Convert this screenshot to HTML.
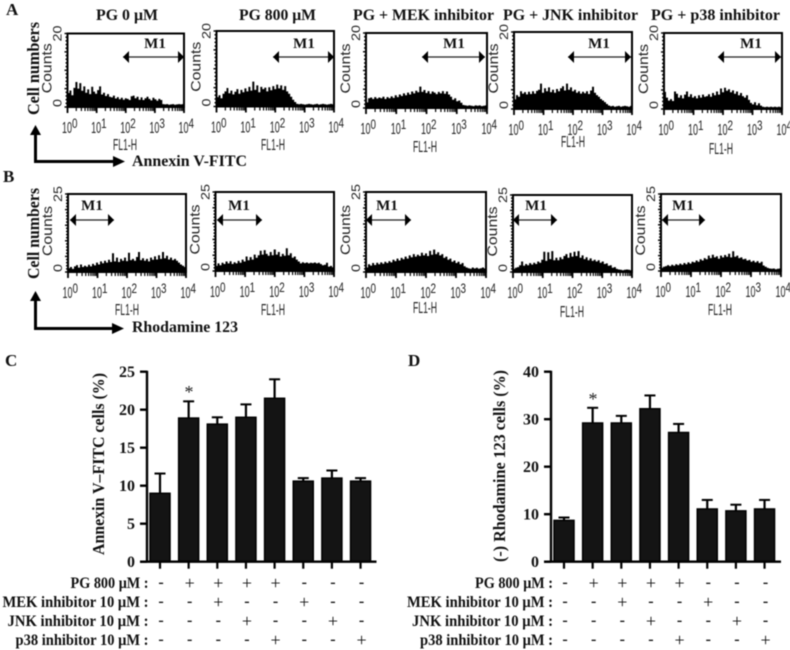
<!DOCTYPE html>
<html lang="en">
<head>
<meta charset="utf-8">
<title>Flow cytometry and bar charts</title>
<style>
html,body{margin:0;padding:0;background:#fff;width:790px;height:650px;overflow:hidden}
svg{display:block;filter:blur(0.4px)}
.serif{font-family:"Liberation Serif",serif;font-weight:bold;fill:#111}
.sans{font-family:"Liberation Sans",sans-serif;fill:#222}
</style>
</head>
<body>
<svg id="figure" width="790" height="650" viewBox="0 0 790 650" xmlns="http://www.w3.org/2000/svg">
<rect width="790" height="650" fill="#fff"/>
<text class="serif" x="6" y="15" font-size="17">A</text>
<text class="serif" x="3" y="182" font-size="17">B</text>
<text class="serif" x="5" y="366" font-size="17">C</text>
<text class="serif" x="408" y="366" font-size="17">D</text>

<text class="serif" x="96" y="20" font-size="16" textLength="62" lengthAdjust="spacingAndGlyphs">PG 0 μM</text>
<text class="serif" x="239" y="20" font-size="16" textLength="77" lengthAdjust="spacingAndGlyphs">PG 800 μM</text>
<text class="serif" x="353" y="20" font-size="16" textLength="141" lengthAdjust="spacingAndGlyphs">PG + MEK inhibitor</text>
<text class="serif" x="503" y="20" font-size="16" textLength="135" lengthAdjust="spacingAndGlyphs">PG + JNK inhibitor</text>
<text class="serif" x="651" y="20" font-size="16" textLength="129" lengthAdjust="spacingAndGlyphs">PG + p38 inhibitor</text>

<text class="serif" font-size="16.5" text-anchor="middle" textLength="93" lengthAdjust="spacingAndGlyphs" transform="translate(39 68.5) rotate(-90)">Cell numbers</text>
<text class="serif" font-size="16.5" text-anchor="middle" textLength="91" lengthAdjust="spacingAndGlyphs" transform="translate(39 233.5) rotate(-90)">Cell numbers</text>

<g fill="#000">
<rect x="34" y="133" width="3" height="30"/><rect x="34" y="160" width="80" height="3"/>
<polygon points="35.5,125 30,135 41,135"/><polygon points="125,161.5 113,156 113,167"/>
</g>
<text class="serif" x="132" y="166" font-size="16" textLength="115" lengthAdjust="spacingAndGlyphs">Annexin V-FITC</text>
<g fill="#000">
<rect x="34" y="300" width="3" height="30"/><rect x="34" y="327" width="80" height="3"/>
<polygon points="35.5,291 30,301 41,301"/><polygon points="124,328.5 112,323 112,334"/>
</g>
<text class="serif" x="132" y="332" font-size="16" textLength="106" lengthAdjust="spacingAndGlyphs">Rhodamine 123</text>

<text class="serif" font-size="17" text-anchor="middle" textLength="182" lengthAdjust="spacingAndGlyphs" transform="translate(104 464) rotate(-90)">Annexin V–FITC cells (%)</text>
<text class="serif" font-size="17" text-anchor="middle" textLength="192" lengthAdjust="spacingAndGlyphs" transform="translate(505 466) rotate(-90)">(-) Rhodamine 123 cells (%)</text>
<text x="189" y="398" font-size="18" text-anchor="middle" font-family="Liberation Serif, serif" fill="#222">*</text>
<text x="593" y="405" font-size="18" text-anchor="middle" font-family="Liberation Serif, serif" fill="#222">*</text>
<g id="charts"></g>
</svg>

<script>
// ---- Histogram data (event counts per bin) ----
const histA1 = [3.8,4.5,3.2,5.2,6.8,5.0,6.5,4.4,5.6,3.9,
4.8,3.5,5.5,4.2,3.6,4.6,5.6,3.4,3.9,3.0,
3.5,2.8,2.6,3.1,2.3,2.7,2.1,2.5,2.0,2.4,
2.2,1.9,2.9,3.1,2.4,2.8,2.0,2.6,1.9,2.4,
2.8,2.2,1.8,2.5,2.1,1.7,2.2,1.9,0.8,0.7,
0.8,0.6,0.7,0.8,0.6,0.7,0.8,0.7,0.8];
const histA2 = [2.5,3.0,2.2,3.4,4.0,4.9,3.5,4.2,3.2,3.9,
4.6,3.4,4.4,3.8,4.8,4.0,5.2,4.2,6.6,4.4,
5.6,3.8,5.2,4.6,5.0,4.0,5.1,4.3,5.4,4.6,
5.8,4.8,5.6,4.4,5.4,4.0,3.4,2.6,1.8,1.2,
0.7,0.6,0.7,0.6,0.5,0.6,0.7,0.6,0.5,0.6,
0.7,0.5,0.6,0.7,0.6,0.5,0.6,0.7,0.6];
const histA3 = [1.5,2.6,2.8,2.4,2.9,2.5,2.8,2.6,3.0,2.4,
2.9,2.6,3.1,2.7,3.4,2.9,3.6,3.2,3.9,3.4,
4.1,3.6,4.4,3.9,4.6,4.2,5.7,4.3,4.8,4.0,
4.5,3.8,4.4,4.1,3.7,4.3,3.9,4.5,3.8,4.4,
3.6,3.0,2.2,2.6,1.8,2.0,1.4,0.8,0.7,0.6,
0.7,0.6,0.5,0.7,0.6,0.7,0.5,0.6,0.7];
const histA4 = [2.5,3.6,3.2,4.6,4.0,4.4,3.8,4.5,3.9,4.6,
4.0,4.7,5.0,6.6,4.2,5.4,4.6,5.6,4.4,5.0,
4.2,5.2,4.6,5.4,5.9,4.8,6.6,5.0,5.6,4.6,
5.0,4.2,4.6,4.0,4.5,4.1,4.6,3.9,4.8,5.8,
4.2,3.6,3.2,2.6,2.2,1.8,1.3,0.9,0.7,0.8,
0.6,0.7,0.8,0.6,0.7,0.8,0.7,0.6,0.8];
const histA5 = [4.5,3.0,2.2,2.6,2.1,4.6,4.0,3.0,3.6,2.8,
3.8,4.6,3.2,3.9,3.0,3.4,2.8,3.6,3.0,3.8,
3.2,3.4,3.9,3.2,4.2,3.6,4.6,3.8,5.4,4.4,
5.6,4.8,5.2,4.4,4.9,4.0,4.6,3.6,4.2,3.4,
3.0,3.6,2.4,1.6,1.2,1.8,1.0,1.5,0.9,0.6,
0.5,0.6,0.5,0.6,0.5,0.6,0.5,0.6,0.5];
const histB1 = [1.2,1.6,1.0,1.8,2.2,1.4,2.4,1.6,2.0,1.7,
2.3,1.8,2.6,2.1,3.0,2.4,3.4,2.8,3.6,3.0,
3.9,3.2,6.0,3.4,4.6,3.2,4.2,3.6,4.6,3.5,
6.2,3.8,4.2,3.6,4.8,6.4,3.8,4.4,3.6,4.2,
3.4,4.6,3.9,5.0,4.0,5.4,4.2,6.4,4.4,5.2,
4.0,4.6,3.8,4.2,3.6,3.0,2.4,2.0,1.6];
const histB2 = [1.6,2.4,1.8,2.6,2.2,3.0,2.4,3.1,2.2,2.8,
2.4,3.2,2.6,3.6,3.0,4.6,3.4,4.4,3.6,5.2,
4.2,5.0,6.4,5.2,6.6,5.4,4.8,6.0,5.0,6.8,
5.2,6.0,4.6,5.4,4.8,7.2,5.0,5.6,4.2,4.6,
3.6,3.0,2.4,2.8,2.5,2.7,2.4,2.6,2.5,2.7,
2.4,2.6,2.2,1.8,2.0,2.6,1.4,1.6,1.2];
const histB3 = [1.4,2.4,2.0,2.8,2.2,2.9,2.4,3.0,2.6,3.2,
2.8,3.4,3.0,3.8,3.4,4.2,3.6,4.4,4.0,4.8,
4.2,5.2,4.6,5.6,4.8,5.4,5.0,6.0,5.2,5.8,
5.0,6.6,5.4,7.0,5.6,6.2,5.2,5.6,4.4,4.8,
3.8,4.2,3.2,3.6,2.8,3.2,2.4,2.8,1.8,1.4,
1.2,1.0,1.4,1.1,1.3,1.0,1.2,1.4,1.1];
const histB4 = [1.0,1.4,1.6,2.2,3.4,2.0,2.6,2.2,2.9,2.4,
3.0,2.6,3.4,3.0,4.0,6.6,3.6,6.4,4.2,6.8,
3.8,4.6,3.8,4.8,4.2,5.2,5.8,4.6,6.2,5.0,
6.6,5.2,6.8,4.6,5.4,4.2,4.8,3.8,4.4,3.6,
4.0,3.4,3.8,3.0,3.4,2.6,2.8,2.0,2.2,1.4,
1.6,1.0,0.8,0.7,0.6,0.7,0.8,0.7,0.6];
const histB5 = [1.0,1.4,1.6,1.9,1.6,2.0,1.7,2.2,1.9,2.4,
2.0,2.6,2.2,2.8,2.4,3.0,2.8,3.4,3.0,3.8,
3.4,4.2,3.8,5.0,4.2,5.3,4.4,4.8,4.0,5.0,
4.4,5.2,4.6,5.6,4.4,6.4,4.6,5.0,4.2,4.4,
3.8,4.0,3.4,3.6,3.0,3.3,2.8,3.2,2.6,3.0,
1.8,1.4,1.0,0.8,0.7,0.8,0.6,0.7,0.8];

// ---- Histogram axis labels ----
const histDecades = [0,1,2,3,4];
const histYTicksA = ["0","20"];
const histYTicksB = ["0","25"];
const histYMaxA = 20;
const histYMaxB = 25;

// ---- Bar chart data ----
const barCategories = ["control","PG","PG+MEK","PG+JNK","PG+p38","MEK","JNK","p38"];
const annexinValues = [9,18.9,18.1,19,21.5,10.6,11,10.6];
const annexinErrors = [2.6,2.2,0.9,1.7,2.5,0.4,1,0.4];
const annexinTicks = [0,5,10,15,20,25];
const rhodamineValues = [8.7,29.2,29.2,32.2,27.2,11.1,10.7,11.1];
const rhodamineErrors = [0.6,3.2,1.5,2.8,1.8,1.9,1.3,1.9];
const rhodamineTicks = [0,10,20,30,40];
const treatmentLabels = ["PG 800 μM :","MEK inhibitor 10 μM :","JNK inhibitor 10 μM :","p38 inhibitor 10 μM :"];
const treatmentPG  = ["-","+","+","+","+","-","-","-"];
const treatmentMEK = ["-","-","+","-","-","+","-","-"];
const treatmentJNK = ["-","-","-","+","-","-","+","-"];
const treatmentP38 = ["-","-","-","-","+","-","-","+"];

// ---- Drawing ----
const SVGNS = "http://www.w3.org/2000/svg";
const root = document.getElementById("charts");
function mk(tag, attrs, parent) {
  const e = document.createElementNS(SVGNS, tag);
  for (const k in attrs) e.setAttribute(k, attrs[k]);
  if (parent) parent.appendChild(e);
  return e;
}
function drawHistogram(name, values, yMax, yTicks, box, m1) {
  const g = mk("g", {}, root);
  
  
  const w = box.r - box.l, h = box.b - box.t;
  const xBin = i => box.l + i * w / values.length;
  const xLog = v => box.l + (v / 4) * w;
  const yVal = v => box.b - (v / yMax) * h;

  let d = "M" + box.l + " " + box.b;
  values.forEach((v, i) => {
    d += "V" + yVal(v).toFixed(1) + "H" + xBin(i + 1).toFixed(1);
  });
  d += "V" + box.b + "Z";
  const area = mk("path", {d: d, fill: "#000"}, g);
  
  

  const frame = mk("rect", {x: box.l, y: box.t, width: w, height: h, fill: "none", stroke: "#000", "stroke-width": 2}, g);
  
  

  // Left axis ticks
  for (let k = 0; k <= yMax; k++) {
    const major = k % 5 === 0;
    const t = mk("line", {x1: box.l - (major ? 3 : 2), x2: box.l, y1: yVal(k), y2: yVal(k), stroke: "#000", "stroke-width": 1.4}, g);
    
    
  }
  // Log x ticks
  histDecades.forEach(dec => {
    const major = mk("line", {x1: xLog(dec), x2: xLog(dec), y1: box.b, y2: box.b + 6, stroke: "#000", "stroke-width": 1.8}, g);
    
    
    const ten = mk("text", {x: xLog(dec) - 5.5, y: box.b + 26, "font-size": 16, textLength: 10, lengthAdjust: "spacingAndGlyphs", class: "sans"}, g);
    ten.textContent = "10";
    
    
    const exp = mk("text", {x: xLog(dec) + 4.5, y: box.b + 21, "font-size": 14, textLength: 5.5, lengthAdjust: "spacingAndGlyphs", class: "sans"}, g);
    exp.textContent = String(dec);
    
    
    if (dec < 4) {
      for (let n = 2; n < 10; n++) {
        const xm = xLog(dec + Math.log10(n));
        const minor = mk("line", {x1: xm, x2: xm, y1: box.b, y2: box.b + 4, stroke: "#000", "stroke-width": 1.2}, g);
        
        
      }
    }
  });

  const fl = mk("text", {x: box.flX, y: box.flY, "font-size": 16, "text-anchor": "middle", textLength: 24, lengthAdjust: "spacingAndGlyphs", class: "sans"}, g);
  fl.textContent = "FL1-H";
  
  

  const counts = mk("text", {"font-size": 14, "text-anchor": "middle", textLength: 50, lengthAdjust: "spacingAndGlyphs", class: "sans", transform: "translate(" + (box.l - 16) + " " + ((box.t + box.b) / 2 - 2) + ") rotate(-90)"}, g);
  counts.textContent = "Counts";
  
  

  const zero = mk("text", {"font-size": 12, "text-anchor": "middle", textLength: 8, lengthAdjust: "spacingAndGlyphs", class: "sans", transform: "translate(" + (box.l - 6) + " " + (box.b - 4) + ") rotate(-90)"}, g);
  zero.textContent = yTicks[0];
  
  

  const top = mk("text", {"font-size": 12, "text-anchor": "middle", textLength: 16, lengthAdjust: "spacingAndGlyphs", class: "sans", transform: "translate(" + (box.l - 6) + " " + box.t + ") rotate(-90)"}, g);
  top.textContent = yTicks[1];
  
  

  // M1 gate marker
  const line = mk("line", {x1: m1.a, x2: m1.z, y1: m1.y, y2: m1.y, stroke: "#222", "stroke-width": 1.2}, g);
  
  
  const headL = mk("polygon", {points: m1.a + "," + m1.y + " " + (m1.a + 6) + "," + (m1.y - 6) + " " + (m1.a + 6) + "," + (m1.y + 6), fill: "#000"}, g);
  
  
  const headR = mk("polygon", {points: m1.z + "," + m1.y + " " + (m1.z - 6) + "," + (m1.y - 6) + " " + (m1.z - 6) + "," + (m1.y + 6), fill: "#000"}, g);
  
  
  const m1t = mk("text", {x: m1.cx, y: m1.ty, "font-size": 15, "text-anchor": "middle", class: "serif"}, g);
  m1t.textContent = "M1";
  
  
}

drawHistogram("histogram-a-pg-0", histA1, histYMaxA, histYTicksA, {l:67.5,r:184,t:33.5,b:107,flX:125,flY:150}, {a:123,z:184,y:57,cx:155,ty:48});
drawHistogram("histogram-a-pg-800", histA2, histYMaxA, histYTicksA, {l:216.5,r:334,t:31,b:106.5,flX:273,flY:150}, {a:273,z:334,y:57,cx:304,ty:48});
drawHistogram("histogram-a-pg-mek", histA3, histYMaxA, histYTicksA, {l:366,r:487,t:33,b:108,flX:425,flY:152}, {a:422,z:485,y:57,cx:454,ty:48});
drawHistogram("histogram-a-pg-jnk", histA4, histYMaxA, histYTicksA, {l:514,r:632,t:32,b:109,flX:573,flY:147}, {a:568,z:631,y:57,cx:599,ty:48});
drawHistogram("histogram-a-pg-p38", histA5, histYMaxA, histYTicksA, {l:664,r:782,t:33,b:109,flX:721,flY:154}, {a:718,z:781,y:57,cx:751,ty:48});
drawHistogram("histogram-b-pg-0", histB1, histYMaxB, histYTicksB, {l:68,r:186,t:194,b:272,flX:127,flY:315}, {a:70,z:114,y:220,cx:92,ty:210});
drawHistogram("histogram-b-pg-800", histB2, histYMaxB, histYTicksB, {l:215.5,r:334,t:192,b:271,flX:273,flY:315}, {a:217,z:262,y:220,cx:239,ty:210});
drawHistogram("histogram-b-pg-mek", histB3, histYMaxB, histYTicksB, {l:366,r:486,t:192,b:272,flX:425,flY:313}, {a:366,z:411,y:220,cx:387,ty:210});
drawHistogram("histogram-b-pg-jnk", histB4, histYMaxB, histYTicksB, {l:513,r:632,t:195,b:272,flX:572,flY:317}, {a:513,z:557,y:220,cx:536,ty:210});
drawHistogram("histogram-b-pg-p38", histB5, histYMaxB, histYTicksB, {l:661,r:781,t:194,b:271,flX:720,flY:315}, {a:662,z:705,y:220,cx:683,ty:210});

function drawBars(name, values, errors, ticks, o) {
  const g = mk("g", {}, root);
  
  
  const yMax = ticks[ticks.length - 1];
  const y = v => o.y0 - (v / yMax) * (o.y0 - o.y1);
  const x = i => o.x0 + i * o.step;

  barCategories.forEach((cat, i) => {
    const bar = mk("rect", {x: x(i) - 10, y: y(values[i]), width: 20, height: o.y0 - y(values[i]), fill: "#141414", stroke: "#000", "stroke-width": 1.5}, g);
    
    
    const err = mk("line", {x1: x(i), x2: x(i), y1: y(values[i]), y2: y(values[i] + errors[i]), stroke: "#000", "stroke-width": 2.2}, g);
    
    
    const cap = mk("line", {x1: x(i) - 5.5, x2: x(i) + 5.5, y1: y(values[i] + errors[i]), y2: y(values[i] + errors[i]), stroke: "#000", "stroke-width": 2}, g);
    
    
    const tick = mk("line", {x1: x(i), x2: x(i), y1: o.y0, y2: o.y0 + 7, stroke: "#000", "stroke-width": 2.2}, g);
    
    
  });

  const yAxis = mk("line", {x1: o.ax, x2: o.ax, y1: o.y1 - 1, y2: o.y0, stroke: "#000", "stroke-width": 2.4}, g);
  
  
  const xAxis = mk("line", {x1: o.ax - 7, x2: o.xEnd, y1: o.y0, y2: o.y0, stroke: "#000", "stroke-width": 2.4}, g);
  
  

  ticks.forEach(v => {
    const t = mk("line", {x1: o.ax - 7, x2: o.ax, y1: y(v), y2: y(v), stroke: "#000", "stroke-width": 2.4}, g);
    
    
    const lab = mk("text", {x: o.ax - 12, y: y(v) + 5.5, "font-size": 16, "text-anchor": "end", class: "serif"}, g);
    lab.textContent = String(v);
    
    
  });

  const rows = [treatmentPG, treatmentMEK, treatmentJNK, treatmentP38];
  const rowY = [588, 607, 626, 645];
  const rowW = [78, 146, 141, 133];
  rows.forEach((row, r) => {
    const lab = mk("text", {x: o.labelEnd - rowW[r], y: rowY[r], "font-size": 16, textLength: rowW[r], lengthAdjust: "spacingAndGlyphs", class: "serif"}, g);
    lab.textContent = treatmentLabels[r];
    
    
    row.forEach((s, i) => {
      const sign = mk("text", {x: x(i) + 1, y: rowY[r] + (s === "+" ? 1 : -1), "font-size": s === "+" ? 18 : 16, "text-anchor": "middle", "font-family": "Liberation Serif, serif", "font-weight": s === "+" ? "normal" : "bold", fill: "#111"}, g);
      sign.textContent = s;
      
      
    });
  });
}

drawBars("annexin-bar-chart", annexinValues, annexinErrors, annexinTicks, {x0:160,step:28.65,y0:561.7,y1:371.7,ax:147,xEnd:376.5,labelEnd:148.5});
drawBars("rhodamine-bar-chart", rhodamineValues, rhodamineErrors, rhodamineTicks, {x0:564,step:28.65,y0:561.7,y1:371.7,ax:551,xEnd:781,labelEnd:553});
</script>
</body>
</html>
